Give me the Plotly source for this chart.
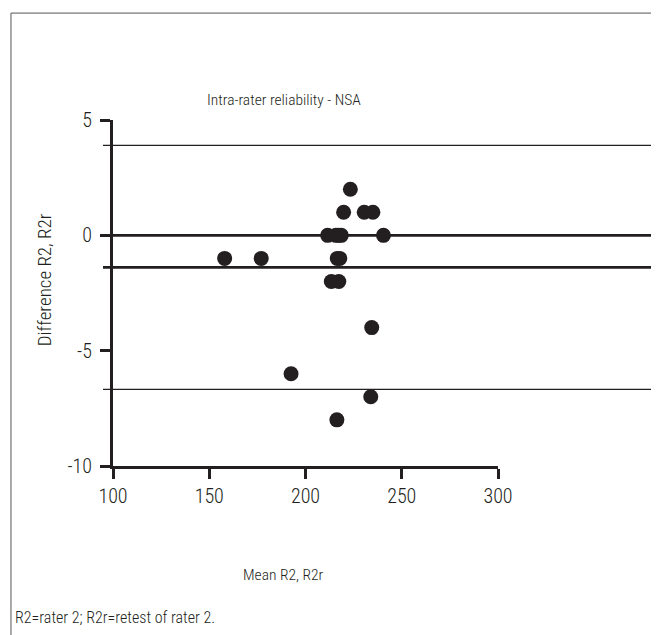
import plotly.graph_objects as go

# Data (Bland-Altman plot)
mean_r2 = [158, 177, 211.5, 215.8, 217.2, 218.6, 219.8, 223.3, 230.5, 235, 240.5,
           216.5, 217.8, 213.4, 217.3, 234.4, 192.5, 233.9, 216.3]
diff_r2 = [-1, -1, 0, 0, 0, 0, 1, 2, 1, 1, 0,
           -1, -1, -2, -2, -4, -6, -7, -8]

bias = -1.39
upper_loa = 3.9
lower_loa = -6.68
zero_line = 0

x_ticks = [100, 150, 200, 250, 300]
x_tick_labels = ["100", "150", "200", "250", "300"]
y_ticks = [-10, -5, 0, 5]
y_tick_labels = ["-10", "-5", "0", "5"]

FONT = "Roboto Condensed, Liberation Sans Narrow, Arial Narrow, sans-serif"
INK = "#231f20"

fig = go.Figure()
fig.add_trace(go.Scatter(
    x=mean_r2, y=diff_r2, mode="markers",
    marker=dict(size=15, color=INK),
    showlegend=False, cliponaxis=False,
))

shapes = []
for val, w in [(upper_loa, 1.3), (zero_line, 2.6), (bias, 2.6), (lower_loa, 1.3)]:
    shapes.append(dict(type="line", xref="paper", yref="y", x0=-0.026, x1=1.45,
                       y0=val, y1=val, line=dict(color=INK, width=w)))
# outer frame (left and top)
shapes.append(dict(type="line", xref="paper", yref="paper", x0=-0.265, x1=-0.265,
                   y0=1.309, y1=-0.55, line=dict(color="#555", width=1)))
shapes.append(dict(type="line", xref="paper", yref="paper", x0=-0.265, x1=1.5,
                   y0=1.309, y1=1.309, line=dict(color="#555", width=1)))

def txt(size):
    return dict(size=size, color=INK, family=FONT, weight=300)

annotations = [
    dict(text="Intra-rater reliability - NSA", xref="paper", yref="paper",
         x=0.444, y=1.058, xanchor="center", yanchor="middle",
         showarrow=False, font=txt(15.5)),
    dict(text="Difference R2, R2r", xref="paper", yref="paper", textangle=-90,
         x=-0.177, y=0.539, xanchor="center", yanchor="middle",
         showarrow=False, font=txt(19)),
    dict(text="Mean R2, R2r", xref="paper", yref="paper",
         x=0.444, y=-0.315, xanchor="center", yanchor="middle",
         showarrow=False, font=txt(15.5)),
    dict(text="R2=rater 2; R2r=retest of rater 2.", xref="paper", yref="paper",
         x=-0.26, y=-0.439, xanchor="left", yanchor="middle",
         showarrow=False, font=txt(16)),
]

axis_common = dict(showgrid=False, zeroline=False, showline=True, linecolor=INK,
                   linewidth=3, ticks="outside", ticklen=10, tickwidth=3,
                   tickcolor=INK, tickfont=txt(20))

fig.update_layout(
    width=659, height=635,
    margin=dict(l=105, r=169, t=112, b=177),
    paper_bgcolor="white", plot_bgcolor="white",
    font=dict(family=FONT, size=16, color=INK),
    shapes=shapes, annotations=annotations,
    xaxis=dict(range=[100, 300], tickvals=x_ticks, ticktext=x_tick_labels, **axis_common),
    yaxis=dict(range=[-10, 5], tickvals=y_ticks, ticktext=y_tick_labels,
               ticklabelstandoff=4, **axis_common),
)

fig.write_html("out.html")
